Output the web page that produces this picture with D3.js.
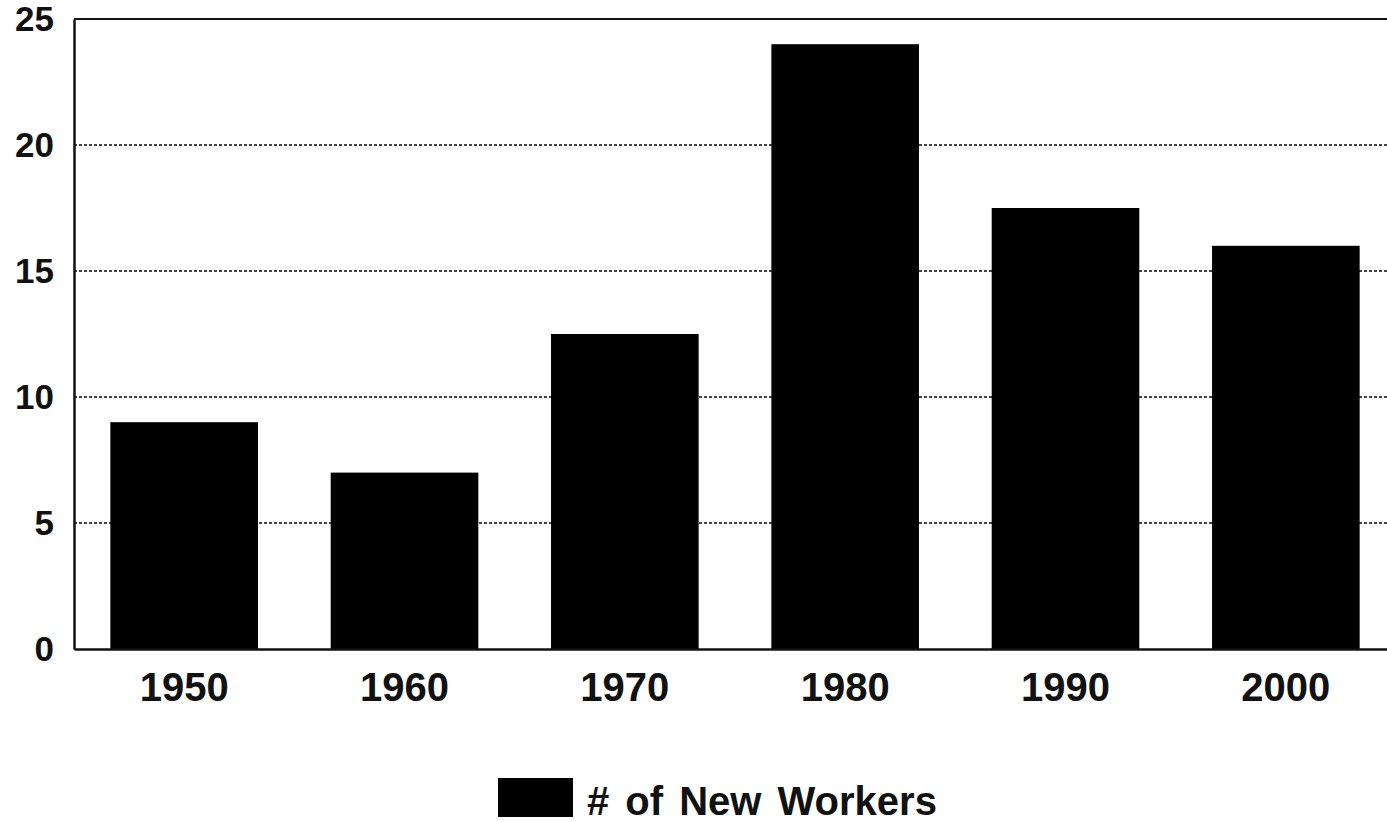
<!DOCTYPE html>
<html>
<head>
<meta charset="utf-8">
<script src="https://cdn.jsdelivr.net/npm/d3@7"></script>
<style>
  html, body { margin: 0; padding: 0; background: #fff; overflow: hidden; }
  svg { display: block; font-family: "Liberation Sans", Arial, sans-serif; font-weight: bold; }
</style>
</head>
<body>
<div id="chart"></div>
<script>
// New workers per decade

const years = ["1950", "1960", "1970", "1980", "1990", "2000"];
const newWorkers = [9, 7, 12.5, 24, 17.5, 16];
const yTicks = [0, 5, 10, 15, 20, 25];
const seriesName = "# of New Workers";

const W = 1387, H = 822;
const margin = {top: 19, right: -9, bottom: 173, left: 74};
const height = H - margin.top - margin.bottom;

const svg = d3.select("#chart")
    .append("svg")
    .attr("width", W)
    .attr("height", H);

const x = d3.scaleBand()
    .domain(years)
    .range([margin.left, W - margin.right])
    .paddingInner(0.33)
    .paddingOuter(0.165);

const y = d3.scaleLinear()
    .domain([0, 25])
    .range([margin.top + height, margin.top]);

// dotted gridlines
svg.append("g")
    .selectAll("line")
    .data(yTicks.filter(d => d > 0 && d < 25))
    .enter()
    .append("line")
    .attr("x1", margin.left)
    .attr("x2", W)
    .attr("y1", d => y(d))
    .attr("y2", d => y(d))
    .attr("stroke", "#444")
    .attr("stroke-width", 2)
    .attr("stroke-dasharray", "3,2");

// top border at 25
svg.append("line")
    .attr("x1", margin.left)
    .attr("x2", W)
    .attr("y1", y(25))
    .attr("y2", y(25))
    .attr("stroke", "#111")
    .attr("stroke-width", 2);

// bars
svg.selectAll(".bar")
    .data(years.map((yr, i) => ({year: yr, value: newWorkers[i]})))
    .enter()
    .append("rect")
    .attr("class", "bar")
    .attr("x", d => x(d.year))
    .attr("y", d => y(d.value))
    .attr("width", x.bandwidth())
    .attr("height", d => y(0) - y(d.value))
    .attr("fill", "#000");

// y axis
const yAxis = svg.append("g")
    .attr("transform", `translate(${margin.left},0)`)
    .call(d3.axisLeft(y).tickValues(yTicks).tickSize(0).tickPadding(20));
yAxis.select(".domain").attr("stroke", "#111").attr("stroke-width", 2.5);
yAxis.selectAll("text")
    .attr("fill", "#111")
    .style("font-size", "35px")
    .style("font-family", "Liberation Sans, Arial, sans-serif")
    .style("font-weight", "bold");

// x axis
const xAxis = svg.append("g")
    .attr("transform", `translate(0,${y(0)})`)
    .call(d3.axisBottom(x).tickSize(0).tickPadding(24));
xAxis.select(".domain").attr("stroke", "#111").attr("stroke-width", 2.5);
xAxis.selectAll("text")
    .attr("fill", "#111")
    .style("font-size", "40px")
    .style("font-family", "Liberation Sans, Arial, sans-serif")
    .style("font-weight", "bold");

// legend
const legend = svg.append("g")
    .attr("transform", "translate(498,778)");

legend.append("rect")
    .attr("width", 75)
    .attr("height", 39)
    .attr("fill", "#000");

legend.append("text")
    .attr("x", 89)
    .attr("y", 37)
    .attr("fill", "#111")
    .style("font-size", "40px")
    .style("word-spacing", "5px")
    .text(seriesName);
</script>
</body>
</html>
